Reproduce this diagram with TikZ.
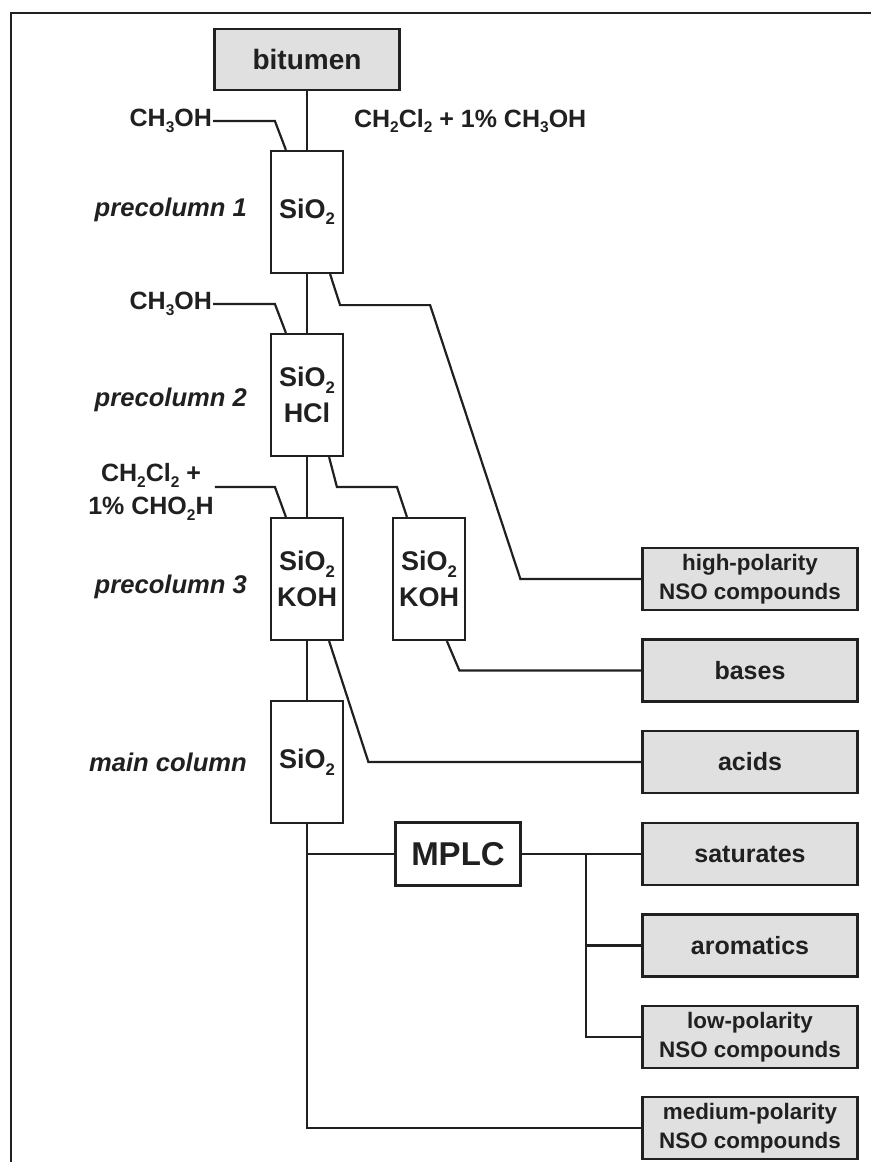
\documentclass[tikz,border=0pt]{standalone}
\usepackage{fontspec}
\setmainfont{Liberation Sans}
\usepackage{tikz}
\usetikzlibrary{positioning}
\usetikzlibrary{calc}
\definecolor{boxgray}{RGB}{224,224,224}
\definecolor{inkgray}{RGB}{32,32,32}
\newcommand{\chemsub}[1]{\raisebox{-0.45ex}{\fontsize{0.62em}{1em}\selectfont #1}}
\tikzstyle{feed} = [draw, fill=boxgray, minimum width=92.5pt, minimum height=30.5pt, inner sep=0pt, font=\fontsize{14}{17}\selectfont\bfseries]
\tikzstyle{column} = [draw, fill=white, minimum width=36pt, minimum height=61pt, inner sep=0pt, align=center, font=\fontsize{13.5}{18}\selectfont\bfseries]
\tikzstyle{mplcbox} = [draw, fill=white, minimum width=62.5pt, minimum height=31.5pt, inner sep=0pt, font=\fontsize{16.5}{20}\selectfont\bfseries]
\tikzstyle{fraction} = [draw, fill=boxgray, minimum width=107.5pt, minimum height=31pt, inner sep=0pt, align=center, font=\fontsize{12.5}{15}\selectfont\bfseries]
\tikzstyle{fraction2} = [fraction, font=\fontsize{11.2}{14.5}\selectfont\bfseries]
\tikzstyle{solvent} = [inner sep=0pt, align=center, font=\fontsize{12.5}{16.5}\selectfont\bfseries]
\tikzstyle{colname} = [inner sep=0pt, anchor=east, font=\fontsize{12.8}{15}\selectfont\bfseries\itshape]

\begin{document}
\begin{tikzpicture}[x = 0.5pt, y = -0.5pt, color = inkgray, line width = 1.1pt]
  \useasboundingbox (0,0) rectangle (871,1162);
  \draw (11,1162) -- (11,13) -- (871,13);

  % columns
  \node[feed] (bitumen) at (307,59.5) {bitumen};
  \node[column] (pc1) at (307,212) {SiO\chemsub{2}};
  \node[column] (pc2) at (307,395) {SiO\chemsub{2}\\HCl};
  \node[column] (pc3) at (307,579) {SiO\chemsub{2}\\KOH};
  \node[column] (kohcol) at (429,579) {SiO\chemsub{2}\\KOH};
  \node[column] (maincol) at (307,762) {SiO\chemsub{2}};
  \node[mplcbox] (mplc) at (458,854) {MPLC};

  % fractions
  \node[fraction2] (highpol) at (750,579) {high-polarity\\NSO compounds};
  \node[fraction] (bases) at (750,670.5) {bases};
  \node[fraction] (acids) at (750,762) {acids};
  \node[fraction] (sat) at (750,854) {saturates};
  \node[fraction] (arom) at (750,945.5) {aromatics};
  \node[fraction2] (lowpol) at (750,1037) {low-polarity\\NSO compounds};
  \node[fraction2] (medpol) at (750,1128) {medium-polarity\\NSO compounds};

  % solvents and names
  \node[solvent, anchor=east] (meohA) at (213,121) {CH\chemsub{3}OH};
  \node[solvent, anchor=west] (eluent) at (353,121) {CH\chemsub{2}Cl\chemsub{2} + 1\% CH\chemsub{3}OH};
  \node[solvent, anchor=east] (meohB) at (213,304) {CH\chemsub{3}OH};
  \node[solvent] (formic) at (151,492) {CH\chemsub{2}Cl\chemsub{2} +\\1\% CHO\chemsub{2}H};
  \node[colname] (nameA) at (248,210) {precolumn 1};
  \node[colname] (nameB) at (248,400) {precolumn 2};
  \node[colname] (nameC) at (248,587) {precolumn 3};
  \node[colname] (nameD) at (248,762) {main column};

  % main line
  \draw (bitumen) -- (pc1);
  \draw (pc1) -- (pc2);
  \draw (pc2) -- (pc3);
  \draw (pc3) -- (maincol);
  \draw (maincol.south) |- (medpol.west);
  \draw (maincol.south |- mplc.west) -- (mplc.west);
  \draw (mplc.east) -- (mplc.east -| sat.west);
  \draw ($(mplc.east)+(64,0)$) |- (arom.west);
  \draw ($(mplc.east)+(64,0)$) |- (lowpol.west);

  % inlets
  \coordinate (bendA) at ($(pc1.north west)+(5,-30)$);
  \coordinate (bendB) at ($(pc2.north west)+(5,-30)$);
  \coordinate (bendC) at ($(pc3.north west)+(5,-30)$);
  \coordinate (bendD) at ($(kohcol.north west)+(5,-30)$);
  \draw (meohA.east) -- (meohA.east -| bendA) -- ($(pc1.north west)+(16,0)$);
  \draw (meohB.east) -- (meohB.east -| bendB) -- ($(pc2.north west)+(16,0)$);
  \draw (bendC -| formic.east) -- (bendC) -- ($(pc3.north west)+(16,0)$);

  % outlets
  \draw ($(pc1.south east)+(-14,0)$) -- ++(10,31) -- ++(90,0) -- ($(highpol.west)+(-121,0)$) -- (highpol.west);
  \draw ($(pc2.south east)+(-15,0)$) -- ($(bendD)+(-60,0)$) -- (bendD) -- ($(kohcol.north west)+(15,0)$);
  \draw ($(kohcol.south west)+(55,0)$) -- ($(bases.west)+(-182,0)$) -- (bases.west);
  \draw ($(pc3.south east)+(-15,0)$) -- ($(acids.west)+(-273,0)$) -- (acids.west);
\end{tikzpicture}
\end{document}
